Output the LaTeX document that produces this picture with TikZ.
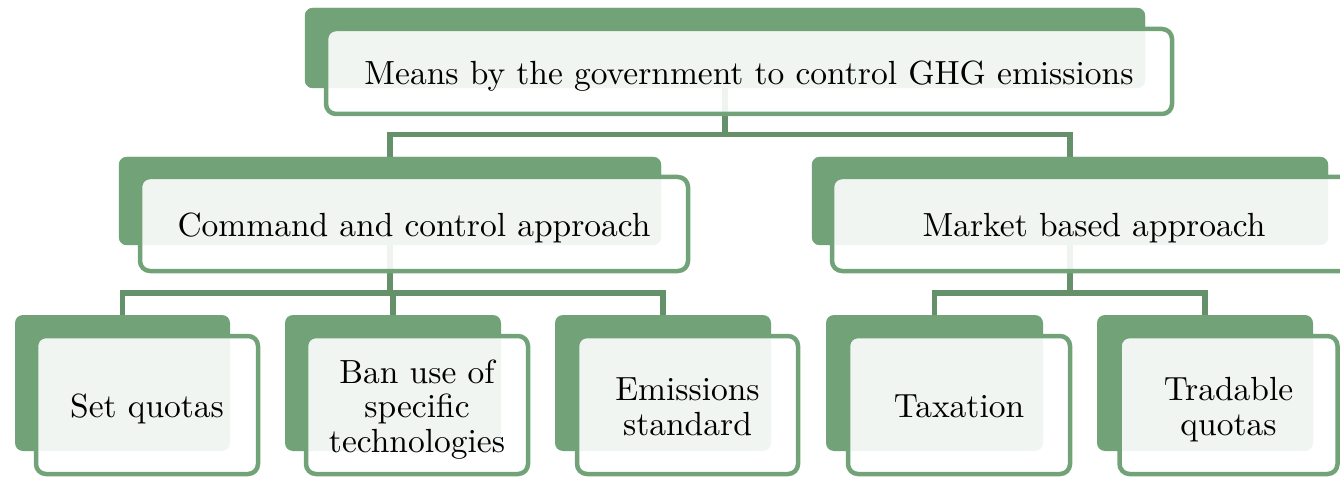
\documentclass[tikz,border=0pt]{standalone}
\usepackage{graphicx}
\usetikzlibrary{fit}
\definecolor{gback}{RGB}{114,163,120}
\definecolor{gline}{RGB}{100,145,106}
\newcommand\mytxt[1]{\raisebox{0pt}[\dimexpr\height+12pt\relax][\depth]{\scalebox{3.35}{\fontsize{10}{10.3}\selectfont\begin{tabular}{@{}c@{}}#1\end{tabular}}}}
\tikzset{
  backbox/.style={fill=gback, draw=none, rounded corners=8pt, inner sep=0pt},
  frontbox/.style={draw=gback, line width=4.5pt, fill=white, fill opacity=0.9,
    text opacity=1, rounded corners=10pt, inner sep=0pt, align=center},
  conn/.style={draw=gline, line width=5.5pt},
}
\begin{document}
\begin{tikzpicture}[x=1pt,y=-1pt]
\useasboundingbox (0,0) rectangle (1340,478);
% back boxes
\node[backbox, fit={(305,8) (1145,88)}] (topB) {};
\node[backbox, fit={(119,157) (661,245)}] (cmdB) {};
\node[backbox, fit={(812,157) (1328,245)}] (mktB) {};
\node[backbox, fit={(15,315) (230,451)}] (setB) {};
\node[backbox, fit={(285,315) (501,451)}] (banB) {};
\node[backbox, fit={(555,315) (771,451)}] (emiB) {};
\node[backbox, fit={(826,315) (1043,451)}] (taxB) {};
\node[backbox, fit={(1097,315) (1313,451)}] (traB) {};
% connectors
\coordinate (bar1) at (0,134.5);
\coordinate (bar2) at (0,293);
\draw[conn] (topB.south) -- (topB.south |- bar1) -| (cmdB.north);
\draw[conn] (topB.south |- bar1) -| (mktB.north);
\draw[conn] (cmdB.south) -- (cmdB.south |- bar2) -| (setB.north);
\draw[conn] (cmdB.south |- bar2) -| (emiB.north);
\draw[conn] (cmdB.south |- bar2) -| (banB.north);
\draw[conn] (mktB.south) -- (mktB.south |- bar2) -| (taxB.north);
\draw[conn] (mktB.south |- bar2) -| (traB.north);
% redraw back boxes above connector starts
\fill[gback, rounded corners=8pt] (topB.south west) rectangle (topB.north east);
\fill[gback, rounded corners=8pt] (cmdB.south west) rectangle (cmdB.north east);
\fill[gback, rounded corners=8pt] (mktB.south west) rectangle (mktB.north east);
% front boxes
\node[frontbox, minimum width=846pt, minimum height=85pt] (top) at (749,71.5) {\mytxt{Means by the government to control GHG emissions}};
\node[frontbox, minimum width=548pt, minimum height=94pt] (cmd) at (414,224) {\mytxt{Command and control approach}};
\node[frontbox, minimum width=524pt, minimum height=94pt] (mkt) at (1094,224) {\mytxt{Market based approach}};
\node[frontbox, minimum width=222pt, minimum height=138pt] (set) at (147,405) {\mytxt{Set quotas}};
\node[frontbox, minimum width=222pt, minimum height=138pt] (ban) at (417,405) {\mytxt{Ban use of\\specific\\technologies}};
\node[frontbox, minimum width=221pt, minimum height=138pt] (emi) at (687.5,405) {\mytxt{Emissions\\standard}};
\node[frontbox, minimum width=222pt, minimum height=138pt] (tax) at (959,405) {\mytxt{Taxation}};
\node[frontbox, minimum width=218pt, minimum height=138pt] (tra) at (1228.5,405) {\mytxt{Tradable\\quotas}};
\end{tikzpicture}
\end{document}
